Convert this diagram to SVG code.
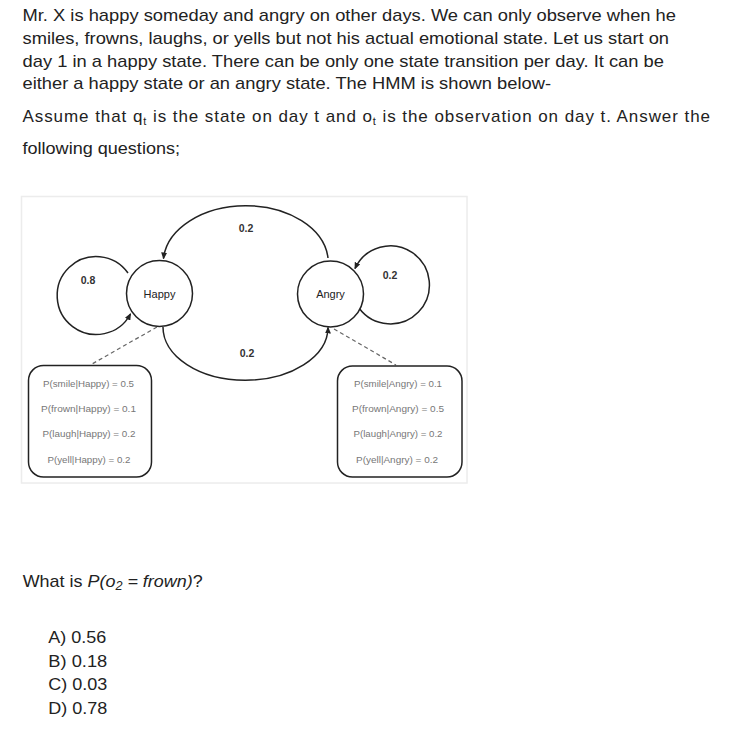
<svg xmlns="http://www.w3.org/2000/svg" width="733" height="739" viewBox="0 0 733 739">
<style>
.body{font-family:"Liberation Sans",Arial,sans-serif;font-size:17px;fill:#222}
.it{font-style:italic}
.lbl{font-family:"Liberation Sans",Arial,sans-serif;font-size:10.5px;font-weight:bold;fill:#333;text-anchor:middle}
.st{font-family:"Liberation Sans",Arial,sans-serif;font-size:11px;fill:#222;text-anchor:middle}
.em{font-family:"Liberation Sans",Arial,sans-serif;font-size:9.5px;fill:#777;text-anchor:middle}
.edge{fill:none;stroke:#222;stroke-width:1.5}
.dash{fill:none;stroke:#666;stroke-width:1.2;stroke-dasharray:4 3}
.node{fill:#fff;stroke:#222;stroke-width:1.5}
.box{fill:#fff;stroke:#222;stroke-width:1.5}
</style>
<defs>
<marker id="arr" markerUnits="userSpaceOnUse" markerWidth="7" markerHeight="6" refX="6" refY="3" orient="auto">
<path d="M0,0 L7,3 L0,6 z" fill="#222"/>
</marker>
</defs>
<rect width="733" height="739" fill="#fff"/>
<g id="text">
<text class="body" x="22.5" y="21" textLength="653.5" lengthAdjust="spacingAndGlyphs">Mr. X is happy someday and angry on other days. We can only observe when he</text>
<text class="body" x="22.5" y="44" textLength="646.5" lengthAdjust="spacingAndGlyphs">smiles, frowns, laughs, or yells but not his actual emotional state. Let us start on</text>
<text class="body" x="22.5" y="66.5" textLength="641.5" lengthAdjust="spacingAndGlyphs">day 1 in a happy state. There can be only one state transition per day. It can be</text>
<text class="body" x="22.5" y="89" textLength="528.5" lengthAdjust="spacingAndGlyphs">either a happy state or an angry state. The HMM is shown below-</text>
<text class="body" x="22.5" y="122" textLength="687.5" lengthAdjust="spacing">Assume that q<tspan font-size="11" dy="3">t</tspan><tspan dy="-3"> is the state on day t and o</tspan><tspan font-size="11" dy="3">t</tspan><tspan dy="-3"> is the observation on day t. Answer the</tspan></text>
<text class="body" x="22.5" y="154" textLength="157.5" lengthAdjust="spacingAndGlyphs">following questions;</text>
<text class="body" x="22.7" y="586.7" textLength="180" lengthAdjust="spacingAndGlyphs">What is <tspan class="it">P(o</tspan><tspan class="it" font-size="12" dy="3">2</tspan><tspan class="it" dy="-3"> = frown)</tspan>?</text>
<text class="body" x="48.3" y="642.7" textLength="58" lengthAdjust="spacingAndGlyphs">A) 0.56</text>
<text class="body" x="48.3" y="666.5" textLength="59" lengthAdjust="spacingAndGlyphs">B) 0.18</text>
<text class="body" x="48.3" y="690.3" textLength="59" lengthAdjust="spacingAndGlyphs">C) 0.03</text>
<text class="body" x="48.3" y="714" textLength="59" lengthAdjust="spacingAndGlyphs">D) 0.78</text>
</g>
<rect x="21.5" y="196.5" width="445.5" height="286.5" fill="#fff" stroke="#ececec" stroke-width="1.5"/>
<g id="connectors">
<path class="edge" d="M 328 258 A 82.5 57 0 0 0 163.5 258.5" marker-end="url(#arr)"/>
<path class="edge" d="M 163 327 A 82.5 53 0 0 0 328 327.5" marker-end="url(#arr)"/>
<path class="edge" d="M 128 273 A 39 39 0 1 0 130.5 314" marker-end="url(#arr)"/>
<path class="edge" d="M 359 308 A 39 39 0 1 0 355 268.5" marker-end="url(#arr)"/>
<path class="dash" d="M 157 327 L 92 364"/>
<path class="dash" d="M 334 329 L 396 365"/>
</g>
<g id="happy">
<circle class="node" cx="159.5" cy="293.5" r="33"/>
<text class="st" x="159.5" y="297.5">Happy</text>
</g>
<g id="angry">
<circle class="node" cx="330.5" cy="294" r="33"/>
<text class="st" x="330.5" y="298">Angry</text>
</g>
<g id="labels">
<text class="lbl" x="88" y="284">0.8</text>
<text class="lbl" x="246" y="232">0.2</text>
<text class="lbl" x="247" y="357">0.2</text>
<text class="lbl" x="390" y="279">0.2</text>
</g>
<g id="emit-happy">
<rect class="box" x="28.5" y="365.5" width="123" height="111.5" rx="15"/>
<text class="em" x="88.5" y="386.5" textLength="91" lengthAdjust="spacingAndGlyphs">P(smile|Happy) = 0.5</text>
<text class="em" x="88.5" y="411.5" textLength="95" lengthAdjust="spacingAndGlyphs">P(frown|Happy) = 0.1</text>
<text class="em" x="89" y="436.5" textLength="93" lengthAdjust="spacingAndGlyphs">P(laugh|Happy) = 0.2</text>
<text class="em" x="89" y="463" textLength="83" lengthAdjust="spacingAndGlyphs">P(yell|Happy) = 0.2</text>
</g>
<g id="emit-angry">
<rect class="box" x="337.5" y="366" width="124.5" height="111" rx="15"/>
<text class="em" x="398" y="386.5" textLength="88" lengthAdjust="spacingAndGlyphs">P(smile|Angry) = 0.1</text>
<text class="em" x="398" y="411.5" textLength="92" lengthAdjust="spacingAndGlyphs">P(frown|Angry) = 0.5</text>
<text class="em" x="398" y="437" textLength="89" lengthAdjust="spacingAndGlyphs">P(laugh|Angry) = 0.2</text>
<text class="em" x="397" y="463" textLength="82" lengthAdjust="spacingAndGlyphs">P(yell|Angry) = 0.2</text>
</g>
</svg>
